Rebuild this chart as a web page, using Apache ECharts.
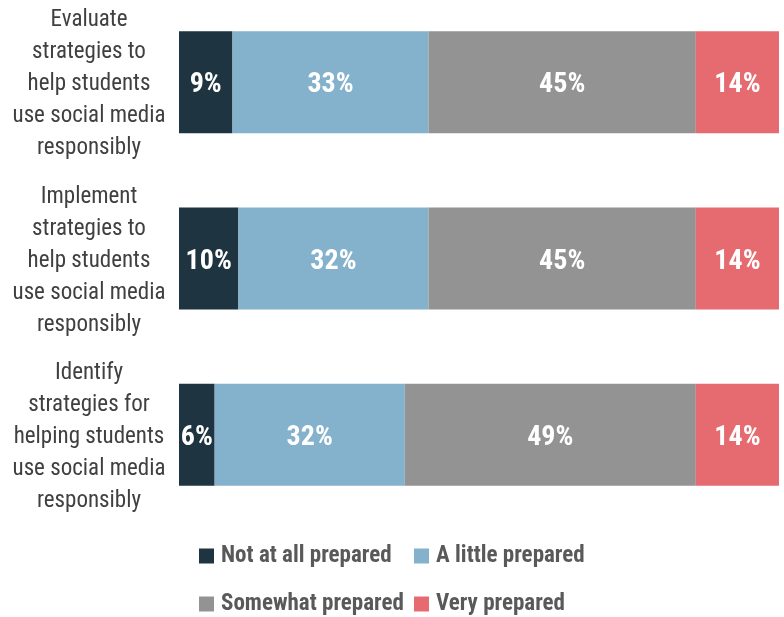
<!DOCTYPE html>
<html>
<head>
<meta charset="utf-8">
<style>
  html, body { margin: 0; padding: 0; background: #ffffff; overflow: hidden; }
  /* plot area starts slightly above the window edge */
  #chart { width: 784px; height: 623px; margin-top: -6px; }
</style>
<script src="https://cdn.jsdelivr.net/npm/echarts@6/dist/echarts.min.js"></script>
</head>
<body>
<div id="chart"></div>
<script>
// Survey items (top to bottom)
const categories = [
  'Evaluate\nstrategies to\nhelp students\nuse social media\nresponsibly',
  'Implement\nstrategies to\nhelp students\nuse social media\nresponsibly',
  'Identify\nstrategies for\nhelping students\nuse social media\nresponsibly'
];

// Response shares, in percent
const notAtAll = [9, 10, 6];
const aLittle = [33, 32, 32];
const somewhat = [45, 45, 49];
const very = [14, 14, 14];

const seriesNames = ['Not at all prepared', 'A little prepared', 'Somewhat prepared', 'Very prepared'];
const seriesValues = [notAtAll, aLittle, somewhat, very];
const colors = ['#1f3441', '#84b1cc', '#939393', '#e66b70'];

const FONT = '"Roboto Condensed", "Liberation Sans Narrow", "DejaVu Sans Condensed", Roboto, sans-serif';

const chart = echarts.init(document.getElementById('chart'), null, { renderer: 'canvas' });

const series = seriesNames.map((name, i) => ({
  name: name,
  type: 'bar',
  stack: 'total',
  data: seriesValues[i],
  barWidth: 102,
  itemStyle: { color: colors[i] },
  label: {
    show: true,
    position: 'inside',
    offset: [0, 3],
    formatter: '{c}%',
    color: '#ffffff',
    fontFamily: FONT,
    fontWeight: 'bold',
    fontSize: 28
  },
  emphasis: { disabled: true }
}));

// One legend per entry so the two columns line up
const legendPos = [
  { left: 199, top: 549 },
  { left: 414, top: 549 },
  { left: 199, top: 597 },
  { left: 414, top: 597 }
];
const legends = seriesNames.map((name, i) => ({
  data: [name],
  left: legendPos[i].left,
  top: legendPos[i].top,
  orient: 'horizontal',
  padding: 0,
  itemWidth: 15,
  itemHeight: 15,
  icon: 'rect',
  selectedMode: false,
  textStyle: {
    fontFamily: FONT,
    fontWeight: 'bold',
    fontSize: 23,
    lineHeight: 26,
    color: '#595959',
    padding: [0, 0, 0, 2]
  }
}));

// Category text block: a thin spacer line on top nudges the block down a little
function categoryLabel(value) {
  return '{gap|}\n' + value.split('\n').map(line => '{t|' + line + '}').join('\n');
}

chart.setOption({
  animation: false,
  color: colors,
  legend: legends,
  grid: { left: 179, right: 5, top: 0, height: 529, containLabel: false },
  xAxis: {
    type: 'value',
    min: 0,
    max: 101,
    show: false
  },
  yAxis: {
    type: 'category',
    inverse: true,
    data: categories,
    axisLine: { show: false },
    axisTick: { show: false },
    axisLabel: {
      margin: 90,
      align: 'center',
      formatter: categoryLabel,
      rich: {
        gap: { fontSize: 1, lineHeight: 5, height: 5 },
        t: {
          fontFamily: FONT,
          fontSize: 23,
          lineHeight: 32,
          color: '#404040',
          align: 'center'
        }
      }
    }
  },
  series: series
});
</script>
</body>
</html>
